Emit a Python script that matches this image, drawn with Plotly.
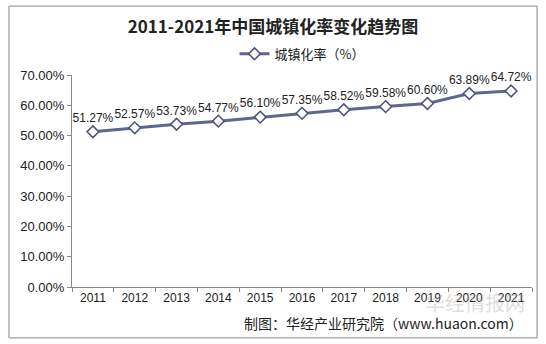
import plotly.graph_objects as go

years = ["2011", "2012", "2013", "2014", "2015", "2016", "2017", "2018", "2019", "2020", "2021"]
rates = [51.27, 52.57, 53.73, 54.77, 56.10, 57.35, 58.52, 59.58, 60.60, 63.89, 64.72]
y_ticks = [0, 10, 20, 30, 40, 50, 60, 70]

fig = go.Figure()
fig.add_trace(go.Scatter(
    x=years, y=rates, mode="lines+markers+text",
    name="城镇化率（%）",
    line=dict(color="#5d678f", width=3),
    marker=dict(symbol="diamond", size=9, color="white", line=dict(color="#4a5278", width=1.5)),
    text=[f"{v:.2f}%" for v in rates],
    textposition="top center",
    textfont=dict(family="Liberation Sans, Arial", size=12, color="#222"),
    cliponaxis=False,
))

fig.update_layout(
    width=546, height=344,
    margin=dict(l=72, r=14, t=75, b=57),
    paper_bgcolor="white", plot_bgcolor="white",
    title=dict(text="<b>2011-2021年中国城镇化率变化趋势图</b>", x=0.5, xanchor="center",
               y=0.92, yanchor="middle",
               font=dict(family="Noto Sans CJK SC", size=17, color="#222")),
    legend=dict(orientation="h", x=0.5, xanchor="center", y=1.10, yanchor="middle",
                font=dict(family="Noto Sans CJK SC", size=13, color="#222"),
                bgcolor="rgba(0,0,0,0)"),
    showlegend=True,
    xaxis=dict(type="category", showline=True, linecolor="#888", linewidth=1,
               ticks="outside", tickson="boundaries", ticklen=4, tickcolor="#888",
               tickfont=dict(family="Liberation Sans, Arial", size=12, color="#222"),
               showgrid=False, range=[-0.5, 10.5]),
    yaxis=dict(range=[0, 70], tickvals=y_ticks, ticktext=[f"{v:.2f}%" for v in y_ticks],
               showline=True, linecolor="#888", linewidth=1, ticks="outside", ticklen=4,
               tickcolor="#888", showgrid=False, zeroline=False,
               tickfont=dict(family="Liberation Sans, Arial", size=13, color="#222")),
)

fig.add_annotation(text="制图：华经产业研究院（www.huaon.com）", xref="paper", yref="paper",
                   x=0.985, xanchor="right", y=-0.17, yanchor="middle", showarrow=False,
                   font=dict(family="Noto Sans CJK SC", size=14, color="#222"))
fig.add_annotation(text="华经情报网", xref="paper", yref="paper",
                   x=0.99, xanchor="right", y=-0.075, yanchor="middle", showarrow=False,
                   font=dict(family="Noto Sans CJK SC", size=20, color="rgba(170,170,170,0.4)"))
# outer border
fig.add_shape(type="rect", xref="paper", yref="paper", x0=-0.137, x1=1.011, y0=-0.24, y1=1.325,
              line=dict(color="#888", width=1), layer="below")
fig.write_html("out.html")
